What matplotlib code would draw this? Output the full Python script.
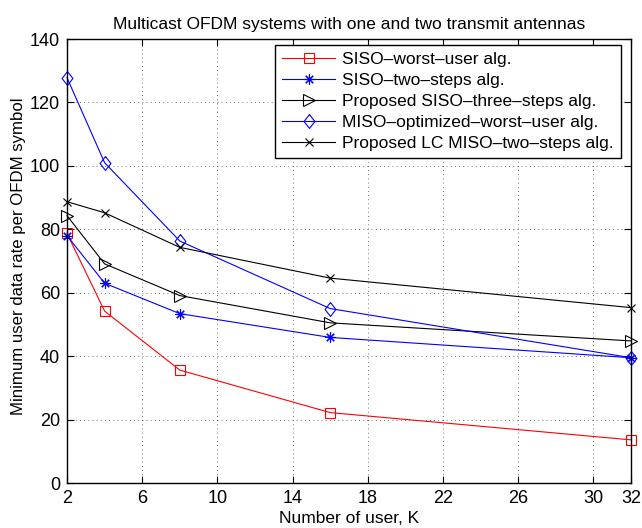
import matplotlib
matplotlib.use("Agg")
import matplotlib.pyplot as plt

plt.rcParams['font.family'] = ['Liberation Sans', 'DejaVu Sans']

K = [2, 4, 8, 16, 32]
siso_worst = [78.7, 54.2, 35.6, 22.2, 13.6]
siso_two = [78.0, 63.0, 53.4, 45.9, 39.5]
siso_three = [84.3, 69.1, 59.1, 50.5, 44.8]
miso_opt = [127.8, 101.0, 76.3, 55.0, 39.5]
lc_miso = [88.7, 85.2, 74.3, 64.6, 55.3]

labels = ["SISO\u2013worst\u2013user alg.",
          "SISO\u2013two\u2013steps alg.",
          "Proposed SISO\u2013three\u2013steps alg.",
          "MISO\u2013optimized\u2013worst\u2013user alg.",
          "Proposed LC MISO\u2013two\u2013steps alg."]
xticks = [2, 6, 10, 14, 18, 22, 26, 30, 32]
yticks = [0, 20, 40, 60, 80, 100, 120, 140]

fig = plt.figure(figsize=(6.42, 5.28), dpi=100)
ax = fig.add_axes([67/642, 1-483/528, (631-67)/642, (483-39)/528])

diamond = [(0, 1), (0.78, 0), (0, -1), (-0.78, 0), (0, 1)]
lw = 0.8
mew = 0.8
common = dict(mfc='none', lw=lw, mew=mew, clip_on=False)
ax.plot(K, siso_worst, color='red', marker='s', ms=6.5, label=labels[0], **common)
ax.plot(K, siso_two, color='blue', marker=(8, 2, 0), ms=7.5, label=labels[1], **common)
ax.plot(K, siso_three, color='black', marker='>', ms=8.5, label=labels[2], **common)
ax.plot(K, miso_opt, color='blue', marker=diamond, ms=10, label=labels[3], **common)
ax.plot(K, lc_miso, color='black', marker='x', ms=6, label=labels[4], **common)

ax.set_xlim(2, 32)
ax.set_ylim(0, 140)
ax.set_xticks(xticks)
ax.set_yticks(yticks)
ax.tick_params(direction='in', labelsize=13, length=5, top=True, right=True, width=0.8, pad=5)
ax.grid(True, linestyle=(0, (1, 4)), color='black', linewidth=0.6, alpha=0.7)
for s in ax.spines.values():
    s.set_linewidth(1.0)

ax.set_xlabel("Number of user, K", fontsize=12.5, labelpad=3)
ax.set_ylabel("Minimum user data rate per OFDM symbol", fontsize=12.1, labelpad=2.8)
ax.yaxis.label.set_y(0.511)
ax.set_title("Multicast OFDM systems with one and two transmit antennas", fontsize=12.5, pad=7)

leg = ax.legend(loc='upper right', fontsize=12.5, fancybox=False, edgecolor='black',
                framealpha=1, borderpad=0.4, labelspacing=0.34, handlelength=3.1,
                handletextpad=0.4, borderaxespad=0,
                bbox_to_anchor=(1 - 10/564, 1 - 6/444))
leg.get_frame().set_linewidth(1.0)

fig.savefig("out.png", dpi=100)
